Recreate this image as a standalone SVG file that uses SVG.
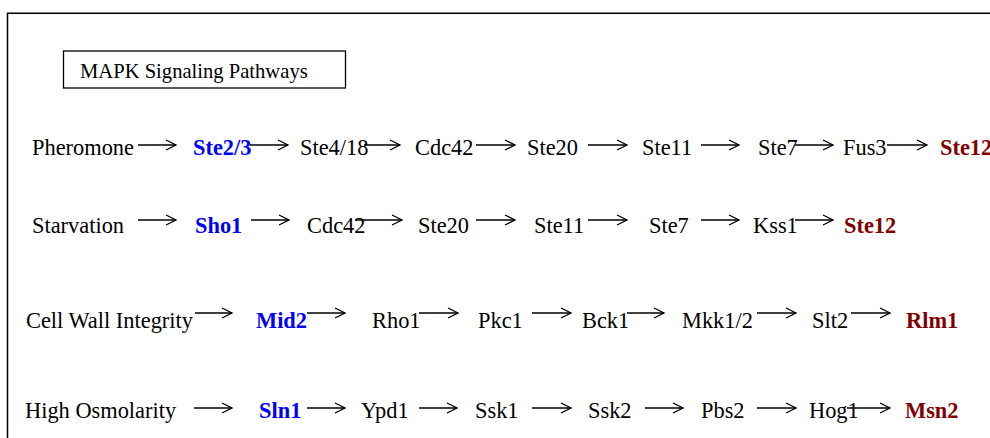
<svg xmlns="http://www.w3.org/2000/svg" width="990" height="438" viewBox="0 0 990 438">
<style>
text{font-family:"Liberation Serif","Times New Roman","DejaVu Serif",serif;font-size:22.4px;fill:#000}
.t{font-size:20.6px}
.b{font-weight:bold;fill:#0000ff}
.r{font-weight:bold;fill:#800000}
.c line{stroke:#000;stroke-width:1.3;marker-end:url(#ah)}
</style>
<defs>
<marker id="ah" markerUnits="userSpaceOnUse" markerWidth="12" markerHeight="12" refX="10" refY="5" orient="auto" viewBox="0 0 12 10" overflow="visible">
<path d="M0,0 L10,5 L0,10" fill="none" stroke="#000" stroke-width="1.3"/>
</marker>
<clipPath id="tc"><rect x="63" y="51" width="283" height="32.5"/></clipPath>
</defs>
<rect width="990" height="438" fill="#fff"/>
<path d="M7.5,438 V13.3 H990" fill="none" stroke="#000" stroke-width="1.5"/>
<g id="title">
<rect x="63.5" y="51" width="282" height="37" fill="#fff" stroke="#000" stroke-width="1.3"/>
<text class="t" x="80" y="78" clip-path="url(#tc)">MAPK Signaling Pathways</text>
</g>
<g class="c" id="connectors">
<line x1="138" y1="145" x2="176" y2="145"/>
<line x1="250" y1="145" x2="288" y2="145"/>
<line x1="364" y1="145" x2="400" y2="145"/>
<line x1="476" y1="145" x2="515" y2="145"/>
<line x1="588" y1="145" x2="627" y2="145"/>
<line x1="701" y1="145" x2="739" y2="145"/>
<line x1="795" y1="145" x2="833" y2="145"/>
<line x1="887" y1="145" x2="927" y2="145"/>
<line x1="138" y1="220" x2="176" y2="220"/>
<line x1="251" y1="220" x2="289" y2="220"/>
<line x1="355" y1="220" x2="402" y2="220"/>
<line x1="476" y1="220" x2="515" y2="220"/>
<line x1="588" y1="220" x2="627" y2="220"/>
<line x1="701" y1="220" x2="739" y2="220"/>
<line x1="795" y1="220" x2="833" y2="220"/>
<line x1="195" y1="313" x2="232" y2="313"/>
<line x1="307" y1="313" x2="345" y2="313"/>
<line x1="419" y1="313" x2="458" y2="313"/>
<line x1="532" y1="313" x2="571" y2="313"/>
<line x1="627" y1="313" x2="664" y2="313"/>
<line x1="757" y1="313" x2="796" y2="313"/>
<line x1="851" y1="313" x2="890" y2="313"/>
<line x1="194" y1="408" x2="232" y2="408"/>
<line x1="307" y1="408" x2="345" y2="408"/>
<line x1="419" y1="408" x2="457" y2="408"/>
<line x1="532" y1="408" x2="571" y2="408"/>
<line x1="645" y1="408" x2="683" y2="408"/>
<line x1="757" y1="408" x2="796" y2="408"/>
<line x1="847" y1="408" x2="890" y2="408"/>
</g>
<g id="r1-pheromone"><text x="32" y="155">Pheromone</text></g>
<g id="r1-ste23"><text class="b" x="193" y="155">Ste2/3</text></g>
<g id="r1-ste418"><text x="300" y="155">Ste4/18</text></g>
<g id="r1-cdc42"><text x="415" y="155">Cdc42</text></g>
<g id="r1-ste20"><text x="527" y="155">Ste20</text></g>
<g id="r1-ste11"><text x="642" y="155">Ste11</text></g>
<g id="r1-ste7"><text x="758" y="155">Ste7</text></g>
<g id="r1-fus3"><text x="843" y="155">Fus3</text></g>
<g id="r1-ste12"><text class="r" x="940" y="155">Ste12</text></g>
<g id="r2-starvation"><text x="32" y="233">Starvation</text></g>
<g id="r2-sho1"><text class="b" x="195" y="233">Sho1</text></g>
<g id="r2-cdc42"><text x="307" y="233">Cdc42</text></g>
<g id="r2-ste20"><text x="418" y="233">Ste20</text></g>
<g id="r2-ste11"><text x="534" y="233">Ste11</text></g>
<g id="r2-ste7"><text x="649" y="233">Ste7</text></g>
<g id="r2-kss1"><text x="753" y="233">Kss1</text></g>
<g id="r2-ste12"><text class="r" x="844" y="233">Ste12</text></g>
<g id="r3-cwi"><text x="26" y="328">Cell Wall Integrity</text></g>
<g id="r3-mid2"><text class="b" x="256" y="328">Mid2</text></g>
<g id="r3-rho1"><text x="372" y="328">Rho1</text></g>
<g id="r3-pkc1"><text x="478" y="328">Pkc1</text></g>
<g id="r3-bck1"><text x="582" y="328">Bck1</text></g>
<g id="r3-mkk12"><text x="682" y="328">Mkk1/2</text></g>
<g id="r3-slt2"><text x="812" y="328">Slt2</text></g>
<g id="r3-rlm1"><text class="r" x="906" y="328">Rlm1</text></g>
<g id="r4-ho"><text x="25" y="418">High Osmolarity</text></g>
<g id="r4-sln1"><text class="b" x="259" y="418">Sln1</text></g>
<g id="r4-ypd1"><text x="361" y="418">Ypd1</text></g>
<g id="r4-ssk1"><text x="475" y="418">Ssk1</text></g>
<g id="r4-ssk2"><text x="588" y="418">Ssk2</text></g>
<g id="r4-pbs2"><text x="701" y="418">Pbs2</text></g>
<g id="r4-hog1"><text x="809" y="418">Hog1</text></g>
<g id="r4-msn2"><text class="r" x="905" y="418">Msn2</text></g>
</svg>
